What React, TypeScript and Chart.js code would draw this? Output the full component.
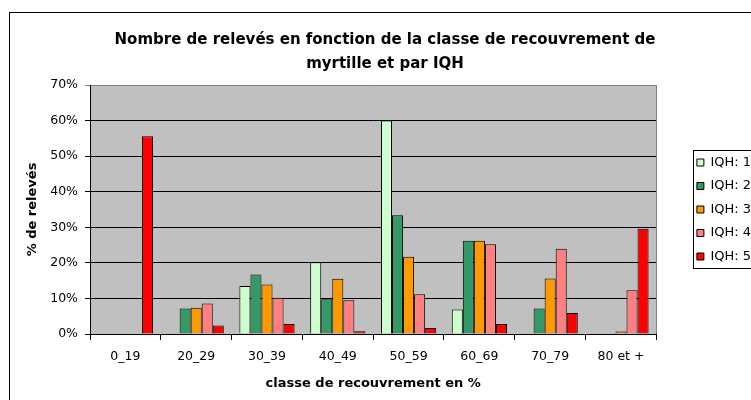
import React, { useEffect, useRef } from "react";
import { Chart, registerables } from "chart.js";

Chart.register(...registerables);

const categories = ["0_19", "20_29", "30_39", "40_49", "50_59", "60_69", "70_79", "80 et +"];
const seriesNames = ["IQH: 1", "IQH: 2", "IQH: 3", "IQH: 4", "IQH: 5"];
const iqh1 = [0, 0, 13.5, 20.2, 60, 6.9, 0, 0];
const iqh2 = [0, 7.2, 16.7, 9.8, 33.4, 26.2, 7.2, 0];
const iqh3 = [0, 7.4, 13.9, 15.5, 21.7, 26.2, 15.6, 0.7];
const iqh4 = [0, 8.6, 10.2, 9.5, 11.2, 25.2, 24.0, 12.3];
const iqh5 = [55.6, 2.4, 2.8, 0.8, 1.7, 2.8, 5.9, 29.6];
const seriesColors = ["#CCFFCC", "#339966", "#FF9900", "#FF8080", "#FF0000"];
const titleLines = ["Nombre de relevés en fonction de la classe de recouvrement de", "myrtille et par IQH"];
const yTitle = "% de relevés";
const xTitle = "classe de recouvrement en %";

const FONT = "'DejaVu Sans', 'Liberation Sans', Arial, sans-serif";

const framePlugin = {
  id: "frame",
  beforeDraw(chart: any) {
    const { ctx, chartArea: a } = chart;
    ctx.save();
    ctx.fillStyle = "#ffffff";
    ctx.fillRect(0, 0, chart.width, chart.height);
    ctx.fillStyle = "#C0C0C0";
    ctx.fillRect(a.left, a.top, a.right - a.left, a.bottom - a.top);
    ctx.restore();
  },
  beforeDatasetsDraw(chart: any) {
    const { ctx, chartArea: a } = chart;
    ctx.save();
    ctx.strokeStyle = "#808080";
    ctx.lineWidth = 1;
    ctx.beginPath();
    ctx.moveTo(Math.round(a.right) + 0.5, a.top);
    ctx.lineTo(Math.round(a.right) + 0.5, a.bottom);
    ctx.stroke();
    ctx.restore();
  },
  afterDraw(chart: any) {
    const { ctx } = chart;
    ctx.save();
    ctx.strokeStyle = "#000000";
    ctx.lineWidth = 1;
    ctx.strokeRect(9.5, 12.5, chart.width + 20, chart.height + 20);
    const lg = chart.legend;
    if (lg && lg.legendHitBoxes && lg.legendHitBoxes.length) {
      const hb = lg.legendHitBoxes;
      const left = Math.round(hb[0].left) - 3.5;
      const top = Math.round(hb[0].top) - 5.5;
      const last = hb[hb.length - 1];
      const bottom = Math.round(last.top + last.height) + 5.5;
      ctx.strokeRect(left, top, chart.width, bottom - top);
    }
    ctx.restore();
  },
};

export default function App() {
  const ref = useRef<HTMLCanvasElement | null>(null);
  useEffect(() => {
    if (!ref.current) return;
    const data = [iqh1, iqh2, iqh3, iqh4, iqh5];
    const chart = new Chart(ref.current, {
      type: "bar",
      data: {
        labels: categories,
        datasets: seriesNames.map((name, i) => ({
          label: name,
          data: data[i],
          backgroundColor: seriesColors[i],
          borderColor: "#000000",
          borderWidth: 1,
          categoryPercentage: 0.78,
          barPercentage: 1.0,
        })),
      },
      options: {
        responsive: false,
        animation: false,
        devicePixelRatio: 1,
        layout: { padding: { left: 9, top: 12, right: 29, bottom: 0 } },
        plugins: {
          title: {
            display: true,
            text: titleLines,
            color: "#000000",
            font: { family: FONT, size: 15, weight: "bold", lineHeight: 1.6 },
            padding: { top: 16, bottom: 9 },
          },
          legend: {
            display: true,
            position: "right",
            align: "center",
            fullSize: false,
            labels: {
              boxWidth: 7,
              boxHeight: 7,
              padding: 10.5,
              color: "#000000",
              font: { family: FONT, size: 13 },
            },
          },
          tooltip: { enabled: false },
        },
        scales: {
          x: {
            grid: {
              display: true,
              drawOnChartArea: false,
              drawTicks: true,
              tickLength: 6,
              color: "#000000",
              offset: true,
            },
            border: { display: true, color: "#000000" },
            ticks: {
              color: "#000000",
              font: { family: FONT, size: 12.5 },
              padding: 9,
              maxRotation: 0,
            },
            title: {
              display: true,
              text: xTitle,
              color: "#000000",
              font: { family: FONT, size: 13, weight: "bold" },
              padding: { top: 0, bottom: 9 },
            },
            afterFit(s: any) {
              s.height = 66;
            },
          },
          y: {
            min: 0,
            max: 70,
            grid: {
              color: (c: any) => (c.tick && c.tick.value === 70 ? "#808080" : "#000000"),
              tickLength: 5,
              drawTicks: true,
            },
            border: { display: true, color: "#000000" },
            ticks: {
              stepSize: 10,
              color: "#000000",
              font: { family: FONT, size: 12.5 },
              padding: 7,
              callback: (v: any) => v + "%",
            },
            title: {
              display: true,
              text: yTitle,
              color: "#000000",
              font: { family: FONT, size: 13, weight: "bold" },
              padding: { top: 16, bottom: 0 },
            },
            afterFit(s: any) {
              s.width = 81;
            },
          },
          spacer: {
            type: "linear",
            position: "right",
            display: true,
            grid: { display: false, drawTicks: false },
            border: { display: false },
            ticks: { display: false },
            title: { display: false },
            afterFit(s: any) {
              s.width = 30;
            },
          },
        },
      },
      plugins: [framePlugin],
    } as any);
    return () => chart.destroy();
  }, []);
  return (
    <div
      style={{
        position: "absolute",
        left: 0,
        top: 0,
        width: 751,
        height: 400,
        overflow: "hidden",
        background: "#ffffff",
      }}
    >
      <canvas ref={ref} width={790} height={400} style={{ display: "block", width: 790, height: 400 }} />
    </div>
  );
}
